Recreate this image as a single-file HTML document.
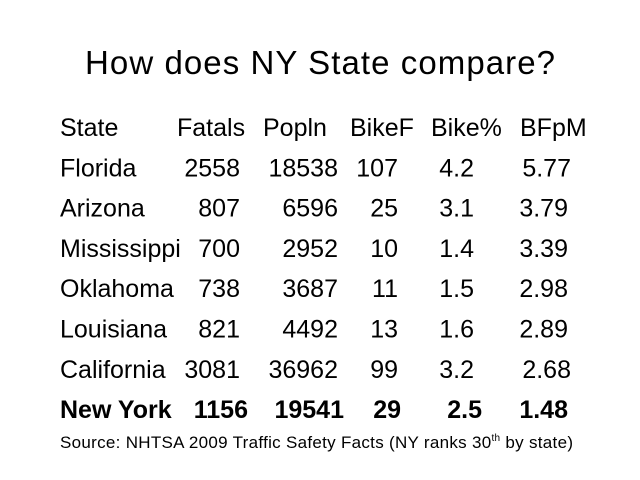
<!DOCTYPE html>
<html><head><meta charset="utf-8"><style>
html,body{margin:0;padding:0;background:#fff}
svg{display:block;font-family:"Liberation Sans",Arial,sans-serif}
</style></head><body>
<svg width="640" height="480" viewBox="0 0 640 480">
<text x="320" y="74" text-anchor="middle" font-size="33" textLength="470">How does NY State compare?</text>
<g id="tbl" font-size="25" fill="#000"></g>
<text x="60" y="448" font-size="17" textLength="513">Source: NHTSA 2009 Traffic Safety Facts (NY ranks 30<tspan font-size="10" dy="-7">th</tspan><tspan dy="7"> by state)</tspan></text>
</svg>
<script>
const headers=["State","Fatals","Popln","BikeF","Bike%","BFpM"];
const states=["Florida","Arizona","Mississippi","Oklahoma","Louisiana","California","New York"];
const fatals=["2558","807","700","738","821","3081","1156"];
const popln=["18538","6596","2952","3687","4492","36962","19541"];
const bikeF=["107","25","10","11","13","99","29"];
const bikePct=["4.2","3.1","1.4","1.5","1.6","3.2","2.5"];
const bfpm=["5.77","3.79","3.39","2.98","2.89","2.68","1.48"];
const g=document.getElementById('tbl');
const NS='http://www.w3.org/2000/svg';
function add(txt,x,y,anchor,bold,name){
  const t=document.createElementNS(NS,'text');
  t.setAttribute('x',x);t.setAttribute('y',y);
  if(anchor)t.setAttribute('text-anchor',anchor);
  if(bold)t.setAttribute('font-weight','bold');
  t.textContent=txt;
  
  
  g.appendChild(t);
}
const hx=[60,177,263,350,431,520];
headers.forEach((h,i)=>add(h,hx[i],136,null,false,'header-'+h.toLowerCase().replace('%','-pct')));
const cols=[fatals,popln,bikeF,bikePct,bfpm];
const colRightRows=[240,338,398,474,571];
const colRightOther=[240,338,398,474,568];
const colRightBold=[248,344,401,482,568];
states.forEach((s,r)=>{
  const y=136+40.3*(r+1);
  const bold=s==="New York";
  add(s,60,y,null,bold,'state-'+s.toLowerCase().replace(' ','-'));
  cols.forEach((c,ci)=>{
    const rx=bold?colRightBold[ci]:((r===0||r===5)?colRightRows[ci]:colRightOther[ci]);
    add(c[r],rx,y,'end',bold,'cell-'+headers[ci+1].toLowerCase().replace('%','-pct')+'-'+r);
  });
});
</script>
</body></html>
